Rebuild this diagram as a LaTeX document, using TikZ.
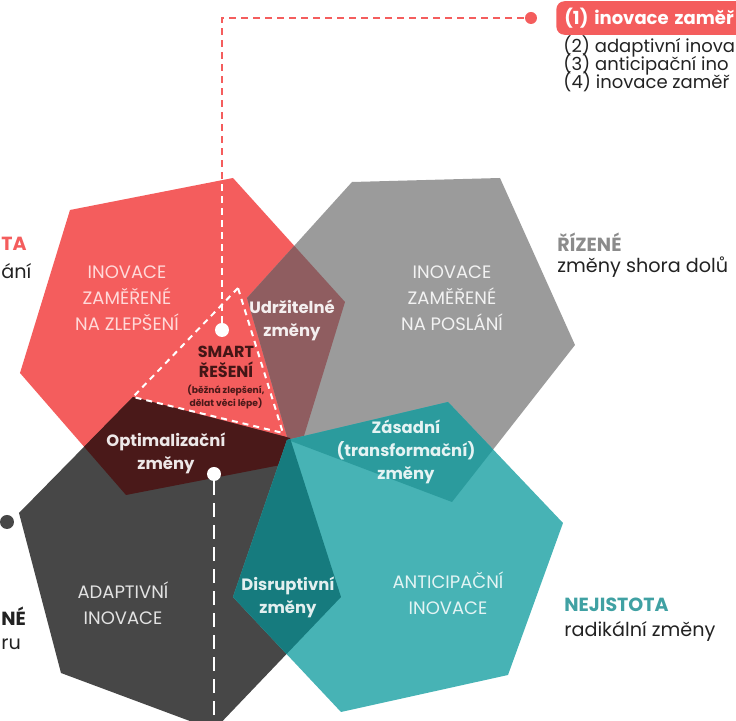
\documentclass[tikz,border=0pt]{standalone}
\usepackage{fontspec}
\setmainfont{Poppins}
\usepackage{tikz}

\definecolor{zlred}{HTML}{F45D5D}
\definecolor{polgray}{HTML}{9B9B9B}
\definecolor{adgray}{HTML}{474747}
\definecolor{antteal}{HTML}{47B3B5}
\definecolor{udrzcol}{HTML}{8F5D60}
\definecolor{optcol}{HTML}{4A1919}
\definecolor{zascol}{HTML}{2B9B9D}
\definecolor{discol}{HTML}{167B7E}
\definecolor{txtdark}{HTML}{222222}

\begin{document}
\begin{tikzpicture}[x=0.5pt, y=-0.5pt,
    biglabel/.style={align=center, font=\fontsize{9}{13}\selectfont},
    boldlabel/.style={align=center, font=\bfseries\fontsize{8.2}{11.5}\selectfont},
    sidetext/.style={anchor=west, inner sep=0pt, text=txtdark, font=\fontsize{9.6}{11}\selectfont},
    sidehead/.style={anchor=west, inner sep=0pt, font=\bfseries\fontsize{9.5}{11}\selectfont},
    listtext/.style={anchor=west, inner sep=0pt, text=txtdark, font=\fontsize{9}{10}\selectfont},
    dot/.style={circle, inner sep=0pt, minimum size=7pt},
    topline/.style={zlred, line width=0.8pt, dash pattern=on 3.5pt off 2.5pt},
    smartline/.style={white, line width=1pt, dash pattern=on 3pt off 2.5pt}]

\useasboundingbox (0,0) rectangle (736,721);
\clip (0,0) rectangle (736,721);

\coordinate (r1) at (70,210);
\coordinate (r2) at (233,178);
\coordinate (r3) at (345,302);
\coordinate (r4) at (296,462);
\coordinate (r5) at (126,495);
\coordinate (r6) at (20,373);

\coordinate (g1) at (352,182);
\coordinate (g2) at (500,178);
\coordinate (g3) at (575,345);
\coordinate (g4) at (452,502);
\coordinate (g5) at (288,440);
\coordinate (g6) at (247,298);

\coordinate (d1) at (133,397);
\coordinate (d2) at (290,438);
\coordinate (d3) at (341,597);
\coordinate (d4) at (214,730);
\coordinate (d5) at (61,673);
\coordinate (d6) at (19,513);

\coordinate (t1) at (287,440);
\coordinate (t2) at (448,402);
\coordinate (t3) at (563,523);
\coordinate (t4) at (508,675);
\coordinate (t5) at (341,712);
\coordinate (t6) at (233,597);

\fill[zlred] (r1) -- (r2) -- (r3) -- (r4) -- (r5) -- (r6) -- cycle;
\fill[polgray] (g1) -- (g2) -- (g3) -- (g4) -- (g5) -- (g6) -- cycle;
\fill[adgray] (d1) -- (d2) -- (d3) -- (d4) -- (d5) -- (d6) -- cycle;
\begin{scope}
  \clip (r1) -- (r2) -- (r3) -- (r4) -- (r5) -- (r6) -- cycle;
  \fill[udrzcol] (g1) -- (g2) -- (g3) -- (g4) -- (g5) -- (g6) -- cycle;
  \fill[optcol] (d1) -- (d2) -- (d3) -- (d4) -- (d5) -- (d6) -- cycle;
\end{scope}
\fill[antteal] (t1) -- (t2) -- (t3) -- (t4) -- (t5) -- (t6) -- cycle;
\begin{scope}
  \clip (t1) -- (t2) -- (t3) -- (t4) -- (t5) -- (t6) -- cycle;
  \fill[zascol] (g1) -- (g2) -- (g3) -- (g4) -- (g5) -- (g6) -- cycle;
  \fill[discol] (d1) -- (d2) -- (d3) -- (d4) -- (d5) -- (d6) -- cycle;
\end{scope}

\coordinate (s1) at (238,288);
\coordinate (s2) at (133,397);
\coordinate (s3) at (283,433);
\draw[smartline] (s1) -- (s2) -- (s3) -- cycle;

\node[dot, fill=white] (smartdot) at (222,330) {};
\node[dot, fill=white] (optdot) at (214,474) {};
\node[dot, fill=zlred, minimum size=6pt] (reddot) at (531,18) {};
\node[dot, fill=adgray] (leftdot) at (7,522) {};
\coordinate (bend) at (222,18);
\coordinate (optend) at (214,730);

\draw[topline] (smartdot) -- (bend) -- (reddot);
\begin{scope}
  \clip (r1) -- (r2) -- (r3) -- (r4) -- (r5) -- (r6) -- cycle;
  \draw[topline, white] (smartdot) -- (bend) -- (reddot);
\end{scope}
\draw[white, line width=1.4pt, dash pattern=on 7pt off 4pt] (optdot) -- (optend);

\node[biglabel, text=red!15] (zlepseni) at (127,298) {INOVACE\\ZAMĚŘENÉ\\NA ZLEPŠENÍ};
\node[biglabel, text=white!90!gray] (poslani) at (452,298) {INOVACE\\ZAMĚŘENÉ\\NA POSLÁNÍ};
\node[biglabel, text=white!78!gray] (adaptivni) at (123,603) {ADAPTIVNÍ\\INOVACE};
\node[biglabel, text=white!85!antteal] (anticipacni) at (448,593) {ANTICIPAČNÍ\\INOVACE};

\node[boldlabel, text=white!90!udrzcol] (udrzitelne) at (292,320) {Udržitelné\\změny};
\node[boldlabel, text=optcol!90!black, font=\bfseries\fontsize{8}{10}\selectfont] (smart) at (226,362) {SMART\\ŘEŠENÍ};
\node[align=center, text=optcol, font=\bfseries\fontsize{4.6}{6.5}\selectfont] (smartnote) at (226,397) {(běžná zlepšení,\\dělat věci lépe)};
\node[boldlabel, text=white!90!optcol] (optim) at (166,453) {Optimalizační\\změny};
\node[boldlabel, text=white!88!zascol] (zasadni) at (406,452) {Zásadní\\(transformační)\\změny};
\node[boldlabel, text=white!88!discol] (disrupt) at (288,597) {Disruptivní\\změny};

\node[sidehead, text=polgray!90!black] (rizene) at (557,242) {ŘÍZENÉ};
\node[sidetext] (rizenetxt) at (557,267) {změny shora dolů};
\node[sidehead, text=antteal!90!black] (nejistota) at (564,605) {NEJISTOTA};
\node[sidetext] (nejistotatxt) at (564,631) {radikální změny};
\node[sidehead, text=zlred] (leftA) at (1,244) {TA};
\node[sidetext] (leftAtxt) at (1,271) {ání};
\node[sidehead, text=txtdark] (leftB) at (1,616) {NÉ};
\node[sidetext] (leftBtxt) at (1,644) {ru};

\node[anchor=west, fill=zlred, rounded corners=4pt, text=white, inner xsep=4pt,
      minimum height=12.5pt, text width=120pt, align=left,
      font=\bfseries\fontsize{9}{10}\selectfont] (item1) at (556,18) {(1) inovace zaměř};
\node[listtext] (item2) at (563,46) {(2) adaptivní inova};
\node[listtext] (item3) at (563,64) {(3) anticipační ino};
\node[listtext] (item4) at (563,82) {(4) inovace zaměř};
\end{tikzpicture}
\end{document}
